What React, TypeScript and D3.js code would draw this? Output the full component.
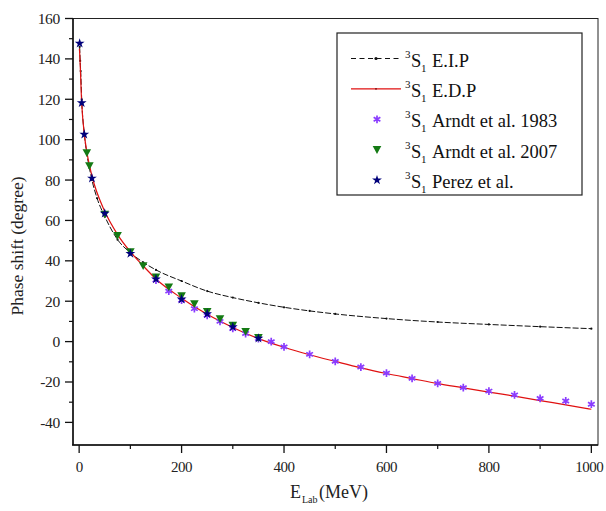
import React from "react";
import * as d3 from "d3";

const W = 606;
const H = 511;

// E.I.P curve (black dashed)
const eipE = [1, 2, 3, 5, 10, 15, 20, 25, 35, 50, 75, 100, 125, 150, 200, 250, 300, 350, 400, 450, 500, 600, 700, 800, 900, 1000];
const eipPhase = [146, 139, 134, 120, 103, 93, 86, 80, 71, 62, 50.5, 44, 39.3, 35.5, 30, 25, 21.8, 19.2, 17, 15.2, 13.7, 11.4, 9.7, 8.5, 7.4, 6.4];

// E.D.P curve (red)
const edpE = [0.5, 1, 5, 10, 15, 20, 25, 50, 75, 100, 125, 150, 200, 250, 300, 350, 400, 450, 500, 550, 600, 650, 700, 750, 800, 850, 900, 950, 1000];
const edpPhase = [145, 143, 118, 103, 94, 87.5, 82, 64.5, 53, 44.5, 37.5, 31, 21.5, 13.5, 7, 1.5, -2.8, -6.5, -9.8, -13, -15.8, -18.3, -20.8, -22.9, -25, -27, -29.2, -31.3, -33.5];

// Arndt et al. 1983 (purple asterisks)
const arndt83E = [150, 175, 200, 225, 250, 275, 300, 325, 350, 375, 400, 450, 500, 550, 600, 650, 700, 750, 800, 850, 900, 950, 1000];
const arndt83Phase = [30.5, 25, 20.5, 16.3, 13, 10, 6.5, 4, 1.5, 0, -2.6, -6.3, -9.8, -12.6, -15.6, -18.2, -20.7, -22.8, -24.5, -26.4, -28.1, -29.4, -31];

// Arndt et al. 2007 (green down-triangles)
const arndt07E = [15, 20, 50, 75, 100, 125, 150, 175, 200, 225, 250, 275, 300, 325, 350];
const arndt07Phase = [93.5, 87, 63, 52.5, 44.5, 37.5, 32, 27, 22.7, 18.7, 14.8, 11.3, 8, 5, 2];

// Perez et al. (navy stars)
const perezE = [1, 5, 10, 25, 50, 100, 150, 200, 250, 300, 350];
const perezPhase = [147.7, 118.2, 102.6, 80.9, 63.5, 43.6, 31, 21, 13.8, 7.3, 1.6];

const xMajor = [0, 200, 400, 600, 800, 1000];
const xMinor = [100, 300, 500, 700, 900];
const yMajor = [-40, -20, 0, 20, 40, 60, 80, 100, 120, 140, 160];
const yMinor = [-30, -10, 10, 30, 50, 70, 90, 110, 130, 150];

const legendItems = ["E.I.P", "E.D.P", "Arndt et al. 1983", "Arndt et al. 2007", "Perez et al."];

const FONT = "Liberation Serif, DejaVu Serif, Times New Roman, serif";
const C_PURPLE = "#8a3cff";
const C_GREEN = "#147a14";
const C_NAVY = "#00007a";
const C_RED = "#e01010";

export default function App() {
  const x = d3.scaleLinear().domain([-12, 1013]).range([73, 598]);
  const y = d3.scaleLinear().domain([-51.2, 160]).range([445, 18.5]);
  const left = 73, right = 598, top = 18.5, bottom = 445;

  const line = d3
    .line<[number, number]>()
    .x((d) => x(d[0]))
    .y((d) => y(d[1]))
    .curve(d3.curveMonotoneX);

  const eipPts = eipE.map((e, i) => [e, eipPhase[i]] as [number, number]);
  const edpPts = edpE.map((e, i) => [e, edpPhase[i]] as [number, number]);

  const asterisk = d3.symbol(d3.symbolAsterisk, 42)() || "";
  const star = d3.symbol(d3.symbolStar, 30)() || "";
  const triDown = "M-4.3,-3.6L4.3,-3.6L0,4.2Z";

  const legX = 337, legY = 33, legW = 245, legH = 162;
  const rowY = (i: number) => 58.5 + i * 30.4;

  const labelParts = (i: number) => {
    const ry = rowY(i);
    return (
      <g key={"lt" + i} fill="#111">
        <text x={405} y={ry - 1} fontSize={11}>3</text>
        <text x={411} y={ry + 8} fontSize={18.5}>S</text>
        <text x={421} y={ry + 13} fontSize={11}>1</text>
        <text x={432} y={ry + 8} fontSize={18.5}>{legendItems[i]}</text>
      </g>
    );
  };

  return (
    <div style={{ position: "absolute", left: 0, top: 0 }}>
      <svg width={W} height={H} viewBox={`0 0 ${W} ${H}`} style={{ display: "block", background: "#fff", fontFamily: FONT }}>
        <rect x={0} y={0} width={W} height={H} fill="#fff" />

        {/* curves */}
        <path d={line(eipPts) || ""} fill="none" stroke="#111" strokeWidth={1} strokeDasharray="6,2" />
        {eipPts.map((p, i) => (
          <circle key={"ed" + i} cx={x(p[0])} cy={y(p[1])} r={1.1} fill="#111" />
        ))}
        <path d={line(edpPts) || ""} fill="none" stroke={C_RED} strokeWidth={1.2} />

        {/* data points */}
        {arndt83E.map((e, i) => (
          <path key={"a83" + i} d={asterisk} transform={`translate(${x(e)},${y(arndt83Phase[i])})`} fill="none" stroke={C_PURPLE} strokeWidth={1.7} />
        ))}
        {arndt07E.map((e, i) => (
          <path key={"a07" + i} d={triDown} transform={`translate(${x(e)},${y(arndt07Phase[i])})`} fill={C_GREEN} />
        ))}
        {perezE.map((e, i) => (
          <path key={"pz" + i} d={star} transform={`translate(${x(e)},${y(perezPhase[i])})`} fill={C_NAVY} />
        ))}

        {/* frame */}
        <rect x={left} y={top} width={right - left} height={bottom - top} fill="none" stroke="#222" strokeWidth={1} />
        <line x1={left} x2={left} y1={top} y2={bottom} stroke="#111" strokeWidth={1.5} />
        <line x1={left - 1} x2={right} y1={bottom} y2={bottom} stroke="#111" strokeWidth={1.5} />

        {/* x ticks */}
        {xMajor.map((v) => (
          <g key={"xm" + v}>
            <line x1={x(v)} x2={x(v)} y1={bottom} y2={bottom + 8} stroke="#111" strokeWidth={1.3} />
            <text x={v === 1000 ? x(v) - 2 : x(v)} y={472} textAnchor="middle" fontSize={15} letterSpacing={-0.5} fill="#222">{v}</text>
          </g>
        ))}
        {xMinor.map((v) => (
          <line key={"xn" + v} x1={x(v)} x2={x(v)} y1={bottom} y2={bottom + 4} stroke="#111" strokeWidth={1.2} />
        ))}

        {/* y ticks */}
        {yMajor.map((v) => (
          <g key={"ym" + v}>
            <line x1={left - 8} x2={left} y1={y(v)} y2={y(v)} stroke="#111" strokeWidth={1.3} />
            <text x={60} y={y(v) + 5.5} textAnchor="end" fontSize={15.5} letterSpacing={-0.3} fill="#222">{v}</text>
          </g>
        ))}
        {yMinor.map((v) => (
          <line key={"yn" + v} x1={left - 4} x2={left} y1={y(v)} y2={y(v)} stroke="#111" strokeWidth={1.2} />
        ))}

        {/* axis titles */}
        <text transform="translate(23,246) rotate(-90)" textAnchor="middle" fontSize={17.5} fill="#222">
          Phase shift (degree)
        </text>
        <g fill="#222">
          <text x={290} y={498} fontSize={18}>E</text>
          <text x={302} y={503} fontSize={10}>Lab</text>
          <text x={319} y={498} fontSize={18}>(MeV)</text>
        </g>

        {/* legend */}
        <rect x={legX} y={legY} width={legW} height={legH} fill="#fff" stroke="#222" strokeWidth={1.2} />
        <line x1={351} x2={401} y1={rowY(0)} y2={rowY(0)} stroke="#111" strokeWidth={1} strokeDasharray="5,3.5" />
        <circle cx={376} cy={rowY(0)} r={1.6} fill="#111" />
        <line x1={351} x2={401} y1={rowY(1)} y2={rowY(1)} stroke={C_RED} strokeWidth={1.2} />
        <circle cx={376} cy={rowY(1)} r={0.8} fill="#600" />
        <path d={asterisk} transform={`translate(377,${rowY(2)})`} fill="none" stroke={C_PURPLE} strokeWidth={1.7} />
        <path d={triDown} transform={`translate(377,${rowY(3)})`} fill={C_GREEN} />
        <path d={star} transform={`translate(377,${rowY(4)})`} fill={C_NAVY} />
        {legendItems.map((_, i) => labelParts(i))}
      </svg>
    </div>
  );
}
